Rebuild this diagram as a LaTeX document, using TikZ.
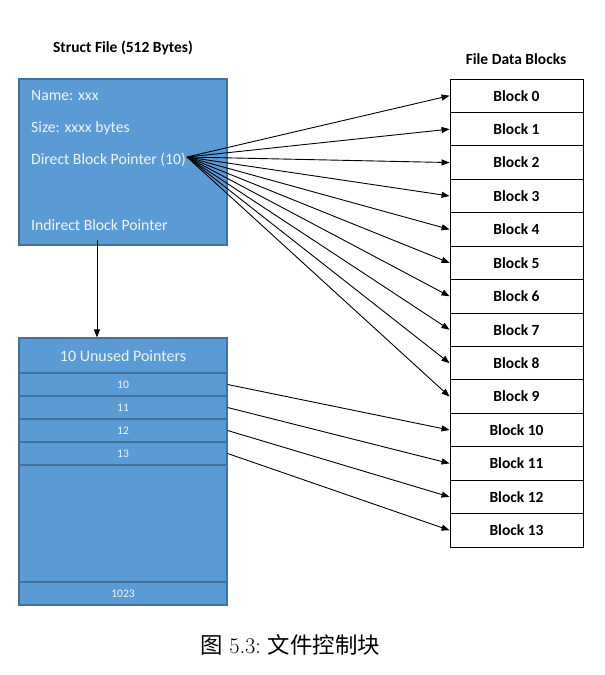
\documentclass[tikz,border=0pt]{standalone}
\usepackage{fontspec}
\newfontfamily\calfont{Carlito}
\newfontfamily\cjk{Noto Sans CJK SC}
\usetikzlibrary{arrows.meta}
\definecolor{boxblue}{HTML}{5B9BD5}
\definecolor{boxedge}{HTML}{41719C}
\definecolor{boxtext}{HTML}{F4F4F4}
\tikzset{
  bluebox/.style={draw=boxedge, line width=1.2pt, fill=boxblue},
  rowbox/.style={draw=boxedge, line width=1.2pt, fill=boxblue, minimum width=208pt, inner sep=0pt, text=boxtext, font=\calfont\fontsize{11.5}{13}\selectfont},
  intext/.style={anchor=west, inner sep=0pt, text=boxtext, font=\calfont\fontsize{15.7}{18}\selectfont},
  blk/.style={draw=black, line width=0.9pt, minimum width=133pt, minimum height=33.43pt, inner sep=0pt, font=\calfont\bfseries\fontsize{15.5}{17}\selectfont},
  ttl/.style={inner sep=0pt, font=\calfont\bfseries\fontsize{15.5}{17}\selectfont},
  ptr/.style={line width=0.9pt, -{Triangle[length=8pt,width=6pt]}}
}
\begin{document}
\begin{tikzpicture}[x=1pt,y=-1pt]
\useasboundingbox (0,0) rectangle (605,675);
% titles
\node[ttl] (t1) at (123,48) {Struct File (512 Bytes)};
\node[ttl] (t2) at (516,59) {File Data Blocks};
% struct box
\node[bluebox, minimum width=208pt, minimum height=166pt, inner sep=0pt] (sf) at (123,162) {};
\node[intext] (n1) at (31,96) {Name: xxx};
\node[intext] (n2) at (31,128) {Size: xxxx bytes};
\node[intext] (n3) at (31,160) {Direct Block Pointer (10)};
\node[intext] (n4) at (31,225) {Indirect Block Pointer};
\coordinate (dp) at (187,157);
\coordinate (ip) at (97,240);
% indirect block
\node[rowbox, minimum height=35pt, font=\calfont\fontsize{16}{18}\selectfont] (hd) at (123,355.5) {10 Unused Pointers};
\node[rowbox, minimum height=23pt] (r10) at (123,384.5) {10};
\node[rowbox, minimum height=23pt] (r11) at (123,407.5) {11};
\node[rowbox, minimum height=23pt] (r12) at (123,430.5) {12};
\node[rowbox, minimum height=23pt] (r13) at (123,453.5) {13};
\node[rowbox, minimum height=117pt] (rx) at (123,523.5) {};
\node[rowbox, minimum height=23pt] (r1023) at (123,593.5) {1023};
% data blocks
\foreach \i in {0,...,13}{
  \node[blk] (b\i) at (516.5,{95.7+33.43*\i}) {Block \i};
}
% arrows
\draw[ptr] (ip) -- (ip |- hd.north);
\foreach \i in {0,...,9}{
  \draw[ptr] (dp) -- (b\i.west);
}
\draw[ptr] (r10.east) -- (b10.west);
\draw[ptr] (r11.east) -- (b11.west);
\draw[ptr] (r12.east) -- (b12.west);
\draw[ptr] (r13.east) -- (b13.west);
% caption
\node[inner sep=0pt, font=\fontsize{22.4}{26}\selectfont] (cap) at (290,645) {{\cjk 图}\ 5.3:\ {\cjk 文件控制块}};
\end{tikzpicture}
\end{document}
